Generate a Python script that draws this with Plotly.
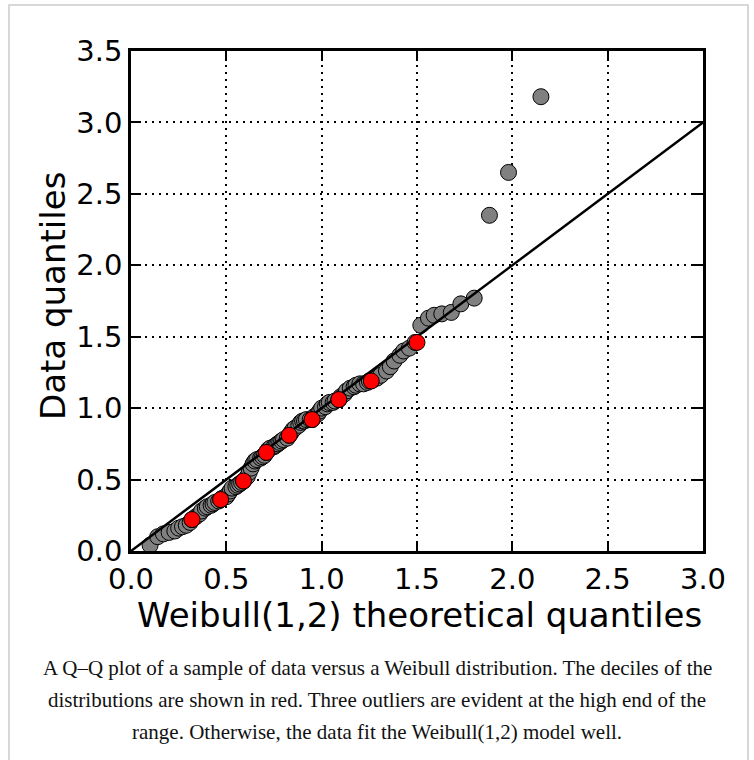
import plotly.graph_objects as go

# Theoretical Weibull(1,2) quantiles for the 100 sorted observations
theoretical_q = [
    0.10, 0.14, 0.17, 0.20, 0.23, 0.25, 0.27, 0.29, 0.31, 0.32,
    0.34, 0.36, 0.37, 0.39, 0.40, 0.42, 0.43, 0.44, 0.46, 0.47,
    0.48, 0.50, 0.51, 0.52, 0.53, 0.55, 0.56, 0.57, 0.58, 0.59,
    0.61, 0.62, 0.63, 0.64, 0.65, 0.66, 0.68, 0.69, 0.70, 0.71,
    0.72, 0.73, 0.75, 0.76, 0.77, 0.78, 0.79, 0.80, 0.82, 0.83,
    0.84, 0.85, 0.86, 0.88, 0.89, 0.90, 0.91, 0.92, 0.94, 0.95,
    0.96, 0.98, 0.99, 1.00, 1.02, 1.03, 1.04, 1.06, 1.07, 1.09,
    1.10, 1.12, 1.13, 1.15, 1.17, 1.18, 1.20, 1.22, 1.24, 1.25,
    1.27, 1.29, 1.31, 1.34, 1.36, 1.38, 1.41, 1.43, 1.46, 1.49,
    1.52, 1.56, 1.59, 1.63, 1.68, 1.73, 1.80, 1.88, 1.98, 2.15,
]

# Sorted sample values
data_q = [
    0.04, 0.10, 0.12, 0.13, 0.14, 0.16, 0.17, 0.18, 0.20, 0.22,
    0.24, 0.26, 0.28, 0.30, 0.31, 0.32, 0.33, 0.34, 0.35, 0.36,
    0.37, 0.38, 0.40, 0.42, 0.44, 0.45, 0.46, 0.47, 0.48, 0.49,
    0.52, 0.55, 0.58, 0.61, 0.63, 0.64, 0.65, 0.66, 0.67, 0.69,
    0.71, 0.72, 0.73, 0.74, 0.75, 0.76, 0.77, 0.78, 0.79, 0.81,
    0.83, 0.85, 0.86, 0.88, 0.90, 0.91, 0.91, 0.92, 0.92, 0.92,
    0.94, 0.96, 0.98, 1.00, 1.01, 1.03, 1.04, 1.04, 1.05, 1.06,
    1.08, 1.10, 1.12, 1.14, 1.15, 1.16, 1.17, 1.17, 1.18, 1.19,
    1.20, 1.21, 1.23, 1.26, 1.29, 1.33, 1.37, 1.40, 1.42, 1.46,
    1.58, 1.63, 1.65, 1.66, 1.67, 1.73, 1.77, 2.35, 2.65, 3.18,
]

# Deciles of the two distributions
decile_theoretical = [0.32, 0.47, 0.59, 0.71, 0.83, 0.95, 1.09, 1.26, 1.50]
decile_data = [0.22, 0.36, 0.49, 0.69, 0.81, 0.92, 1.06, 1.19, 1.46]

# Reference line y = x
ref_x = [0.0, 3.0]
ref_y = [0.0, 3.0]

tick_vals = [0.0, 0.5, 1.0, 1.5, 2.0, 2.5, 3.0, 3.5]
tick_text = ["0.0", "0.5", "1.0", "1.5", "2.0", "2.5", "3.0", "3.5"]

x_title = "Weibull(1,2) theoretical quantiles"
y_title = "Data quantiles"

caption_lines = [
    "A Q\u2013Q plot of a sample of data versus a Weibull distribution. The deciles of the",
    "distributions are shown in red. Three outliers are evident at the high end of the",
    "range. Otherwise, the data fit the Weibull(1,2) model well.",
]

W, H = 754, 760
L, R, T, B = 131, 51, 51, 209
PW, PH = W - L - R, H - T - B


def px_x(p):
    return (p - L) / PW


def px_y(p):
    return (H - B - p) / PH


fig = go.Figure()

fig.add_trace(go.Scatter(
    x=theoretical_q, y=data_q, mode="markers",
    marker=dict(size=16, color="#808080", line=dict(color="black", width=1)),
    showlegend=False,
))
fig.add_trace(go.Scatter(
    x=ref_x, y=ref_y, mode="lines",
    line=dict(color="black", width=2.5),
    showlegend=False,
))
fig.add_trace(go.Scatter(
    x=decile_theoretical, y=decile_data, mode="markers",
    marker=dict(size=16, color="#ff0000", line=dict(color="black", width=1)),
    showlegend=False,
))

axis_common = dict(
    showline=True, linecolor="black", linewidth=2.5, mirror="ticks",
    ticks="inside", ticklen=10, tickwidth=1.5, tickcolor="black",
    showgrid=True, gridcolor="black", gridwidth=1.5, griddash="2px,5px",
    zeroline=False,
    tickfont=dict(family="DejaVu Sans", size=29, color="black"),
)

fig.update_xaxes(range=[0, 3.0], tickvals=tick_vals[:7], ticktext=tick_text[:7],
                 **axis_common)
fig.update_yaxes(range=[0, 3.5], tickvals=tick_vals, ticktext=tick_text,
                 **axis_common)

title_font = dict(family="DejaVu Sans", size=34, color="black")
fig.add_annotation(
    text=x_title, xref="paper", yref="paper",
    x=px_x(419), y=px_y(593), xanchor="center", yanchor="top",
    showarrow=False, font=title_font,
)
fig.add_annotation(
    text=y_title, xref="paper", yref="paper", textangle=-90,
    x=px_x(53), y=px_y(296), xanchor="center", yanchor="middle",
    showarrow=False, font=title_font,
)

# Light frame around figure and caption
fig.add_shape(
    type="rect", xref="paper", yref="paper",
    x0=px_x(9), x1=px_x(748), y0=px_y(790), y1=px_y(5),
    line=dict(color="#cccccc", width=1.5), fillcolor="rgba(0,0,0,0)",
    layer="below",
)

for i, txt in enumerate(caption_lines):
    fig.add_annotation(
        text=txt, xref="paper", yref="paper",
        x=px_x(377), y=px_y(668 + 32 * i),
        xanchor="center", yanchor="middle", showarrow=False,
        font=dict(family="Liberation Serif", size=21, color="#111111"),
    )

fig.update_layout(
    width=W, height=H,
    margin=dict(l=L, r=R, t=T, b=B, autoexpand=False),
    paper_bgcolor="white", plot_bgcolor="white",
)

fig.write_html("out.html")
